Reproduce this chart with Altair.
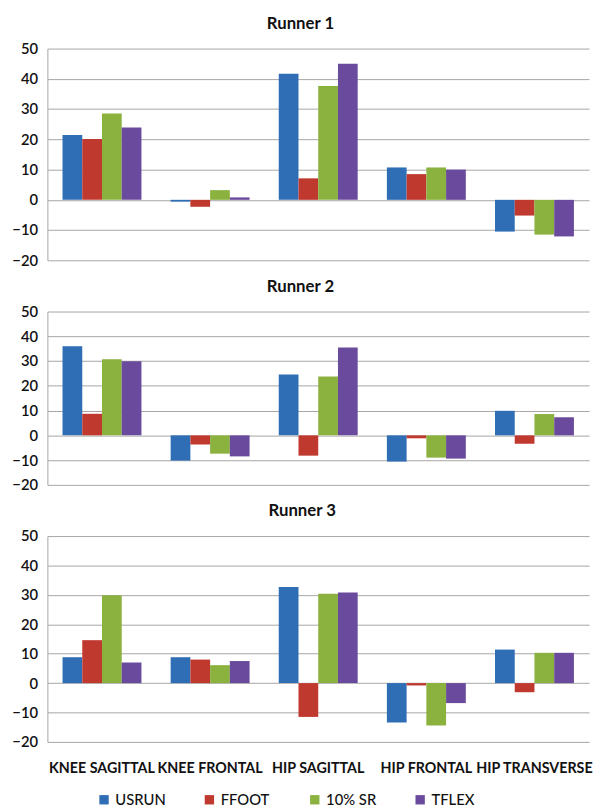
import altair as alt
import pandas as pd

categories = ["KNEE SAGITTAL", "KNEE FRONTAL", "HIP SAGITTAL", "HIP FRONTAL", "HIP TRANSVERSE"]
conditions = ["USRUN", "FFOOT", "10% SR", "TFLEX"]
colors = ["#2F6DB5", "#C0392F", "#8BB13F", "#6A4A9C"]

runner1 = {
    "USRUN": [21.4, -0.6, 41.7, 10.7, -10.5],
    "FFOOT": [20.1, -2.3, 7.1, 8.5, -5.2],
    "10% SR": [28.5, 3.2, 37.6, 10.7, -11.5],
    "TFLEX": [23.9, 0.8, 45.0, 10.0, -12.1],
}
runner2 = {
    "USRUN": [36.0, -10.2, 24.6, -10.6, 9.9],
    "FFOOT": [8.7, -3.7, -8.2, -1.2, -3.4],
    "10% SR": [30.7, -7.4, 23.8, -9.0, 8.6],
    "TFLEX": [29.9, -8.5, 35.5, -9.4, 7.3],
}
runner3 = {
    "USRUN": [8.8, 8.8, 32.7, -13.4, 11.4],
    "FFOOT": [14.6, 8.0, -11.5, -0.8, -3.1],
    "10% SR": [29.9, 6.1, 30.4, -14.4, 10.3],
    "TFLEX": [7.0, 7.5, 30.8, -6.8, 10.3],
}

def make_df(vals):
    rows = []
    for cond in conditions:
        for cat, v in zip(categories, vals[cond]):
            rows.append({"category": cat, "condition": cond, "value": v})
    return pd.DataFrame(rows)

FONT = "Lato"
GRID = "#A6A6A6"
TXT = "#111111"

def panel(title, vals, height, show_x):
    return alt.Chart(make_df(vals)).mark_bar().encode(
        x=alt.X(
            "category:N",
            sort=categories,
            scale=alt.Scale(paddingInner=0.27, paddingOuter=0.14),
            axis=alt.Axis(
                title=None, labels=show_x, labelAngle=0, domain=False, ticks=False,
                labelFontWeight="bold", labelFontSize=14.5, labelPadding=20,
                labelColor=TXT, labelFont=FONT,
            ),
        ),
        xOffset=alt.XOffset("condition:N", sort=conditions,
                            scale=alt.Scale(paddingInner=0, paddingOuter=0)),
        y=alt.Y(
            "value:Q",
            scale=alt.Scale(domain=[-20, 50], nice=False),
            axis=alt.Axis(
                values=list(range(-20, 51, 10)), title=None, grid=True,
                gridColor=GRID, domainColor=GRID, ticks=False, labelPadding=10,
                labelFontSize=15, labelFontWeight=600, labelColor=TXT, labelFont=FONT,
            ),
        ),
        color=alt.Color(
            "condition:N",
            sort=conditions,
            scale=alt.Scale(domain=conditions, range=colors),
            legend=alt.Legend(
                title=None, orient="none", legendX=50, legendY=755,
                direction="horizontal", columns=4, gridAlign="all",
                symbolType="square", symbolSize=90, symbolStrokeWidth=0,
                labelFontSize=15, labelFont=FONT, labelColor=TXT, labelFontWeight=500,
                columnPadding=36,
            ),
        ),
    ).properties(
        width=550,
        height=height,
        title=alt.TitleParams(title, fontSize=17, fontWeight="bold", font=FONT,
                              color=TXT, frame="bounds", anchor="middle", offset=9),
    )

chart = alt.vconcat(
    panel("Runner 1", runner1, 215, False),
    panel("Runner 2", runner2, 176, False),
    panel("Runner 3", runner3, 209, True),
    spacing=10,
).properties(
    padding={"left": 3, "top": 1, "right": 0, "bottom": 0}
).configure_view(stroke=None)

chart.save("out.html", embed_options={"renderer": "svg", "actions": False})
